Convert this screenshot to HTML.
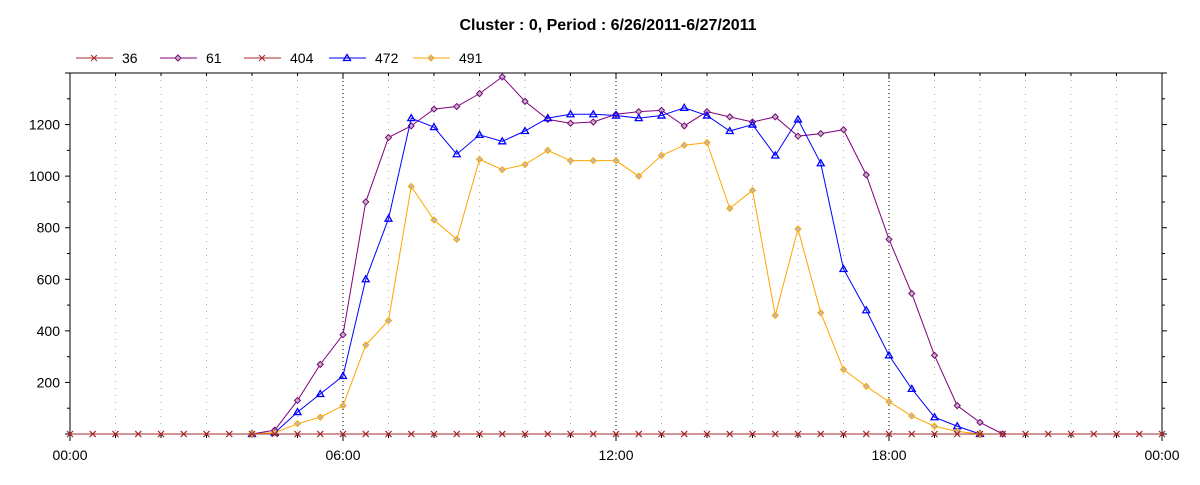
<!DOCTYPE html>
<html><head><meta charset="utf-8"><style>
body{margin:0;background:#fff;width:1200px;height:480px;overflow:hidden}
svg text{font-family:"Liberation Sans",sans-serif}
</style></head><body>
<svg id="c" width="1200" height="480" xmlns="http://www.w3.org/2000/svg">
<text x="608" y="30" text-anchor="middle" font-size="16" font-weight="bold">Cluster : 0, Period : 6/26/2011-6/27/2011</text>
<g id="grid"></g><g id="axes"></g><g id="series"></g><g id="legend"></g>
</svg>
<script>
const seriesNames=["36","61","404","472","491"];
const N=null;
const s61=[N,N,N,N,N,N,N,N,0,15,130,270,385,900,1150,1195,1260,1270,1320,1385,1290,1220,1205,1210,1240,1250,1255,1195,1250,1230,1210,1230,1155,1165,1180,1005,755,545,305,110,45,0,N,N,N,N,N,N,N];
const s472=[N,N,N,N,N,N,N,N,0,5,85,155,225,600,835,1225,1190,1085,1160,1135,1175,1225,1240,1240,1235,1225,1235,1265,1235,1175,1200,1080,1220,1050,640,480,305,175,65,30,0,N,N,N,N,N,N,N,N];
const s491=[N,N,N,N,N,N,N,N,0,5,40,65,110,345,440,960,830,755,1065,1025,1045,1100,1060,1060,1060,1000,1080,1120,1130,875,945,460,795,470,250,185,125,70,30,10,0,N,N,N,N,N,N,N,N];
const s36=new Array(49).fill(0);
const s404=new Array(49).fill(0);
const yTicks=[200,400,600,800,1000,1200];
const xTickLabels=["00:00","06:00","12:00","18:00","00:00"];
const L=70,R=1162,T=73,B=434,YMAX=1400;
const xs=h=>L+(R-L)*h/24, ys=v=>B-(B-T)*v/YMAX;
const NS="http://www.w3.org/2000/svg";
function mk(p,tag,a){const e=document.createElementNS(NS,tag);for(const k in a)e.setAttribute(k,a[k]);p.appendChild(e);return e;}
const grid=document.getElementById('grid'),axes=document.getElementById('axes'),ser=document.getElementById('series'),leg=document.getElementById('legend');
for(let h=1;h<24;h++){const x=xs(h);const major=h%6==0;
const g=mk(grid,'line',{x1:x,x2:x,y1:T,y2:B,stroke:major?'#000':'#aaa','stroke-dasharray':'1,'+(major?3:6)});

}
const fr=mk(axes,'rect',{x:L,y:T,width:R-L,height:B-T,fill:'none',stroke:'#000'});


for(let h=0;h<=24;h++){const x=xs(h);const major=h%6==0;
mk(axes,'line',{x1:x,x2:x,y1:B,y2:B+(major?7:4),stroke:'#000'});
mk(axes,'line',{x1:x,x2:x,y1:T,y2:T+(major?6:3),stroke:'#000'});}
xTickLabels.forEach((t,i)=>{const e=mk(axes,'text',{x:xs(i*6),y:B+26,'text-anchor':'middle','font-size':14});e.textContent=t;

});
for(let v=0;v<=YMAX;v+=100){const y=ys(v);const major=v%200==0;
mk(axes,'line',{x1:L-(major?5:3),x2:L,y1:y,y2:y,stroke:'#000'});
mk(axes,'line',{x1:R,x2:R+(major?5:3),y1:y,y2:y,stroke:'#000'});}
yTicks.forEach(v=>{const e=mk(axes,'text',{x:L-10,y:ys(v)+5,'text-anchor':'end','font-size':14});e.textContent=v;

});
const defs=[[s36,'#a52a2a','x'],[s61,'#800080','d'],[s404,'#a52a2a','x'],[s472,'#0000ff','t'],[s491,'#ffa500','d']];
function marker(g,x,y,c,m){
if(m=='x'){mk(g,'path',{d:`M${x-3},${y-3}L${x+3},${y+3}M${x-3},${y+3}L${x+3},${y-3}`,stroke:c,fill:'none'});}
else if(m=='d'){mk(g,'path',{d:`M${x},${y-3}L${x+3},${y}L${x},${y+3}L${x-3},${y}Z`,stroke:c,fill:'#bbb'});}
else{mk(g,'path',{d:`M${x},${y-3.5}L${x+3.5},${y+2.5}L${x-3.5},${y+2.5}Z`,stroke:c,fill:'none','stroke-width':1.3});}}
const order=[1,3,4,0,2];
order.forEach(si=>{const [arr,c,m]=defs[si];const g=mk(ser,'g',{});


const pts=[];arr.forEach((v,i)=>{if(v!==null)pts.push([xs(i/2),ys(v)]);});
mk(g,'polyline',{points:pts.map(p=>p[0]+','+p[1]).join(' '),fill:'none',stroke:c});
pts.forEach(p=>marker(g,p[0],p[1],c,m));});
defs.forEach((d,si)=>{const [arr,c,m]=d;
const lx=[76,160,244,329,413][si];const lg=mk(leg,'g',{});


mk(lg,'line',{x1:lx,x2:lx+37,y1:58,y2:58,stroke:c});marker(lg,lx+18,58,c,m);
const t=mk(lg,'text',{x:lx+46,y:63,'font-size':14});t.textContent=seriesNames[si];});
</script>
</body></html>
